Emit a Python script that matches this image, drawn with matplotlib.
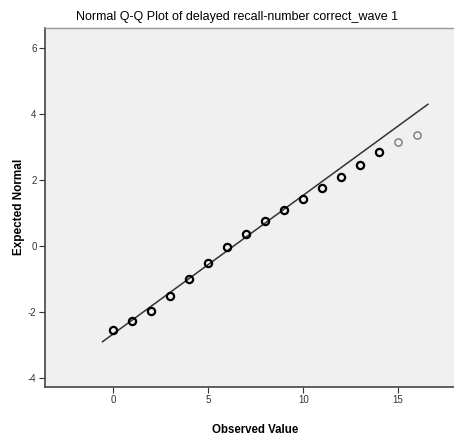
import numpy as np
import matplotlib.pyplot as plt

# observed scores and their expected normal values
observed = [0, 1, 2, 3, 4, 5, 6, 7, 8, 9, 10, 11, 12, 13, 14, 15, 16]
expected = [-2.55, -2.26, -1.97, -1.51, -1.01, -0.51, -0.03, 0.36, 0.75, 1.10,
            1.42, 1.77, 2.09, 2.45, 2.85, 3.16, 3.36]
# the last two values have few cases, drawn lighter
faint = [False] * 15 + [True, True]

# reference line y = (x - mean) / sd
mean_val = 6.34
sd_val = 2.384
line_x = [-0.57, 16.57]

plt.rcParams['font.family'] = ['Liberation Sans', 'DejaVu Sans']
plt.rcParams['axes.unicode_minus'] = False

fig = plt.figure(figsize=(4.54, 4.41), dpi=100)
ax = fig.add_axes([0.0991, 0.1224, 0.92, 0.8141])
ax.set_facecolor('#f0f0f0')

lx = np.array(line_x)
ax.plot(lx, (lx - mean_val) / sd_val, color='#333333', lw=1.1, zorder=2)

obs = np.array(observed)
exp_ = np.array(expected)
mask = np.array(faint)
ax.plot(obs[~mask], exp_[~mask], 'o', ms=5.2, mfc='none', mec='black', mew=1.6, zorder=3)
ax.plot(obs[mask], exp_[mask], 'o', ms=5.2, mfc='none', mec='#777777', mew=1.0, zorder=3)

ax.set_xlim(-3.6, 18.4)
ax.set_ylim(-4.27, 6.6)
ax.set_xticks([0, 5, 10, 15])
ax.set_yticks([-4, -2, 0, 2, 4, 6])
ax.tick_params(labelsize=7, labelcolor='#333333', length=4, width=0.8, color='#333333', pad=2)

for side in ['left', 'bottom']:
    ax.spines[side].set_color('#444444')
    ax.spines[side].set_linewidth(1.2)
for side in ['top', 'right']:
    ax.spines[side].set_color('#999999')
    ax.spines[side].set_linewidth(1.0)

fig.text(237 / 454, 1 - 17 / 441, 'Normal Q-Q Plot of delayed recall-number correct_wave 1',
         ha='center', va='center', fontsize=9)
fig.text(255 / 454, 1 - 430 / 441, 'Observed Value', ha='center', va='center',
         fontsize=8.3, fontweight='bold')
fig.text(19 / 454, 1 - 207 / 441, 'Expected Normal', ha='center', va='center',
         rotation=90, fontsize=8.5, fontweight='bold')

plt.savefig('out.png', dpi=100)
